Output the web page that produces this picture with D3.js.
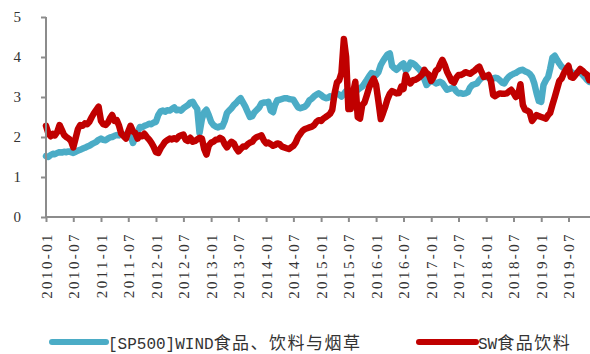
<!DOCTYPE html>
<html>
<head>
<meta charset="utf-8">
<script src="https://cdn.jsdelivr.net/npm/d3@7"></script>
<style>
  html, body { margin: 0; padding: 0; background: #fff; }
  svg { display: block; }
  .serif { font-family: "Liberation Serif", "Times New Roman", Times, "DejaVu Serif", serif; }
  .mono { font-family: "Liberation Mono", "Courier New", Courier, monospace; }
  .cjk { font-family: "Noto Sans CJK SC", sans-serif; }
</style>
</head>
<body>
<svg id="chart" width="590" height="354"></svg>
<script>
// Semi-monthly observations (1st and 16th of each month), 2010-01 to 2019-11
const seriesNames = ["[SP500]WIND食品、饮料与烟草", "SW食品饮料"];
const yTicks = [0, 1, 2, 3, 4, 5];

// [SP500]WIND 食品、饮料与烟草 valuation ratio
const windFood = [
  1.52, 1.50, 1.55, 1.58, 1.57, 1.60, 1.62, 1.61, 1.63, 1.62, 1.64, 1.62, 1.60, 1.63, 1.66, 1.68, 1.71, 1.73, 1.76, 1.78, 1.82, 1.85, 1.88, 1.93, // 2010
  1.96, 1.93, 1.92, 1.96, 1.99, 2.00, 2.03, 2.05, 2.04, 2.07, 2.06, 2.04, 2.10, 2.05, 1.85, 1.97, 2.12, 2.25, 2.24, 2.28, 2.30, 2.33, 2.32, 2.36, // 2011
  2.38, 2.55, 2.64, 2.66, 2.63, 2.67, 2.66, 2.70, 2.74, 2.67, 2.68, 2.66, 2.72, 2.76, 2.80, 2.86, 2.88, 2.78, 2.70, 2.10, 2.45, 2.62, 2.68, 2.55, // 2012
  2.38, 2.30, 2.26, 2.24, 2.27, 2.26, 2.40, 2.60, 2.66, 2.72, 2.80, 2.85, 2.92, 2.97, 2.86, 2.76, 2.62, 2.50, 2.52, 2.62, 2.68, 2.74, 2.84, 2.86, // 2013
  2.86, 2.88, 2.66, 2.62, 2.80, 2.92, 2.93, 2.95, 2.97, 2.97, 2.95, 2.94, 2.93, 2.84, 2.74, 2.72, 2.74, 2.76, 2.82, 2.92, 2.96, 3.02, 3.06, 3.09, // 2014
  3.05, 3.00, 2.97, 2.98, 3.02, 2.99, 3.04, 3.09, 3.06, 3.01, 3.08, 3.15, 3.16, 3.13, 3.10, 3.12, 3.18, 3.22, 3.26, 3.34, 3.43, 3.52, 3.60, 3.58, // 2015
  3.55, 3.62, 3.80, 3.90, 3.98, 4.06, 4.09, 3.78, 3.72, 3.68, 3.74, 3.80, 3.84, 3.66, 3.72, 3.86, 3.84, 3.80, 3.74, 3.68, 3.59, 3.45, 3.30, 3.36, // 2016
  3.43, 3.38, 3.34, 3.36, 3.38, 3.35, 3.26, 3.18, 3.20, 3.22, 3.22, 3.14, 3.09, 3.10, 3.08, 3.09, 3.12, 3.24, 3.30, 3.32, 3.34, 3.42, 3.48, 3.51, // 2017
  3.50, 3.48, 3.47, 3.46, 3.48, 3.47, 3.42, 3.36, 3.34, 3.44, 3.51, 3.55, 3.58, 3.60, 3.64, 3.67, 3.68, 3.64, 3.62, 3.58, 3.50, 3.34, 3.10, 2.90, // 2018
  2.88, 3.30, 3.42, 3.50, 3.70, 3.98, 4.03, 3.93, 3.84, 3.76, 3.72, 3.72, 3.68, 3.64, 3.59, 3.58, 3.62, 3.63, 3.56, 3.50, 3.43, 3.38              // 2019
];

// SW 食品饮料 valuation ratio
const swFood = [
  2.28, 2.10, 2.02, 2.08, 2.04, 2.12, 2.30, 2.18, 2.05, 2.00, 1.96, 1.90, 1.74, 1.96, 2.20, 2.30, 2.28, 2.34, 2.32, 2.38, 2.50, 2.60, 2.68, 2.76, // 2010
  2.40, 2.32, 2.30, 2.36, 2.46, 2.55, 2.40, 2.42, 2.28, 2.08, 2.02, 1.96, 2.14, 2.28, 2.14, 2.10, 1.96, 2.04, 2.02, 2.08, 2.00, 1.94, 1.86, 1.76, // 2011
  1.62, 1.60, 1.72, 1.80, 1.88, 1.92, 1.96, 1.94, 1.97, 1.94, 2.02, 2.04, 2.06, 1.93, 1.90, 1.98, 1.88, 1.90, 1.94, 1.98, 1.96, 1.70, 1.56, 1.78, // 2012
  1.86, 1.88, 1.93, 1.94, 1.98, 1.95, 1.82, 1.74, 1.82, 1.88, 1.84, 1.72, 1.64, 1.70, 1.76, 1.76, 1.82, 1.86, 1.88, 1.96, 2.00, 2.02, 2.04, 1.92, // 2013
  1.84, 1.86, 1.82, 1.78, 1.80, 1.84, 1.82, 1.76, 1.74, 1.72, 1.70, 1.74, 1.78, 1.86, 2.00, 2.08, 2.16, 2.20, 2.22, 2.24, 2.26, 2.30, 2.38, 2.42, // 2014
  2.40, 2.46, 2.50, 2.54, 2.58, 2.68, 3.10, 3.36, 3.42, 3.60, 4.45, 4.00, 2.70, 2.70, 3.10, 3.38, 2.50, 2.46, 2.80, 2.86, 3.05, 3.24, 3.36, 3.46, // 2015
  3.30, 2.90, 2.45, 2.60, 2.75, 2.94, 3.08, 3.15, 3.12, 3.09, 3.10, 3.26, 3.20, 3.55, 3.40, 3.34, 3.42, 3.43, 3.46, 3.50, 3.56, 3.68, 3.60, 3.56, // 2016
  3.40, 3.50, 3.66, 3.70, 3.82, 3.93, 3.80, 3.63, 3.52, 3.40, 3.36, 3.48, 3.55, 3.55, 3.58, 3.62, 3.60, 3.58, 3.62, 3.66, 3.72, 3.76, 3.62, 3.50, // 2017
  3.52, 3.55, 3.40, 3.05, 3.02, 3.06, 3.09, 3.08, 3.08, 3.09, 3.14, 3.18, 3.10, 3.00, 3.05, 3.32, 2.80, 2.68, 2.66, 2.62, 2.40, 2.48, 2.55, 2.52, // 2018
  2.50, 2.48, 2.46, 2.55, 2.60, 2.80, 3.00, 3.20, 3.40, 3.46, 3.60, 3.70, 3.78, 3.50, 3.48, 3.55, 3.62, 3.70, 3.66, 3.60, 3.56, 3.42              // 2019
];

// Observation dates: 1st and 16th of each month starting 2010-01-01
const dates = windFood.map((_, i) =>
  new Date(Date.UTC(2010 + Math.floor(i / 24), Math.floor(i / 2) % 12, i % 2 ? 16 : 1)));

const colors = ["#4bacc6", "#c00000"];
const axisColor = "#8c8c8c";
const textColor = "#333333";

const svg = d3.select("#chart");

const x = d3.scaleUtc()
  .domain([new Date(Date.UTC(2010, 0, 1)), new Date(Date.UTC(2019, 6, 1))])
  .range([46, 568.5]);
const y = d3.scaleLinear().domain([0, 5]).range([217, 17]);

const xTicks = d3.utcMonth.every(6).range(new Date(Date.UTC(2010, 0, 1)), new Date(Date.UTC(2019, 7, 1)));

// Series lines (SW drawn last, on top)
const line = d3.line()
  .x((d, i) => x(dates[i]))
  .y(d => y(d));

[windFood, swFood].forEach((vals, k) => {
  svg.append("path")
    .datum(vals)
    .attr("d", line)
    .attr("fill", "none")
    .attr("stroke", colors[k])
    .attr("stroke-width", 6.5)
    .attr("stroke-linejoin", "round")
    .attr("stroke-linecap", "round");
});

// Y axis
const yAxis = svg.append("g")
  .attr("transform", "translate(46,0)")
  .call(d3.axisLeft(y).tickValues(yTicks).tickSize(5).tickPadding(20).tickFormat(d3.format("d")));
yAxis.attr("font-family", null).attr("font-size", null);
yAxis.select(".domain").attr("stroke", axisColor).attr("stroke-width", 2).attr("d", "M0,217V17");
yAxis.selectAll(".tick line").attr("stroke", axisColor).attr("stroke-width", 2);
yAxis.selectAll(".tick text")
  .attr("class", "serif")
  .attr("fill", textColor)
  .attr("font-size", 15);

// X axis
const xAxis = svg.append("g")
  .attr("transform", "translate(0,217)")
  .call(d3.axisBottom(x).tickValues(xTicks).tickSize(5).tickFormat(d3.utcFormat("%Y-%m")));
xAxis.attr("font-family", null).attr("font-size", null);
xAxis.select(".domain").attr("stroke", axisColor).attr("stroke-width", 2).attr("d", "M46,0H590");
xAxis.selectAll(".tick line").attr("stroke", axisColor).attr("stroke-width", 2);
xAxis.selectAll(".tick text")
  .attr("class", "serif")
  .attr("fill", textColor)
  .attr("text-anchor", "end")
  .attr("transform", "translate(0,15) rotate(-90)")
  .attr("x", 0)
  .attr("y", 0)
  .attr("dy", "0.35em")
  .attr("font-size", 15)
  .attr("letter-spacing", 2.4);

// Legend
const legendItems = [
  { x1: 52, x2: 106, tx: 108, latin: "[SP500]WIND", cjk: "食品、饮料与烟草" },
  { x1: 419, x2: 476, tx: 478, latin: "SW", cjk: "食品饮料" }
];
legendItems.forEach((it, k) => {
  svg.append("line")
    .attr("x1", it.x1).attr("x2", it.x2)
    .attr("y1", 342).attr("y2", 342)
    .attr("stroke", colors[k])
    .attr("stroke-width", 6)
    .attr("stroke-linecap", "round");
  const t = svg.append("text")
    .attr("x", it.tx)
    .attr("y", 349)
    .attr("fill", textColor);
  t.append("tspan")
    .attr("class", "mono")
    .attr("font-size", 16)
    .text(it.latin);
  t.append("tspan")
    .attr("class", "cjk")
    .attr("font-size", 17)
    .attr("letter-spacing", 1.5)
    .text(it.cjk);
});
</script>
</body>
</html>
